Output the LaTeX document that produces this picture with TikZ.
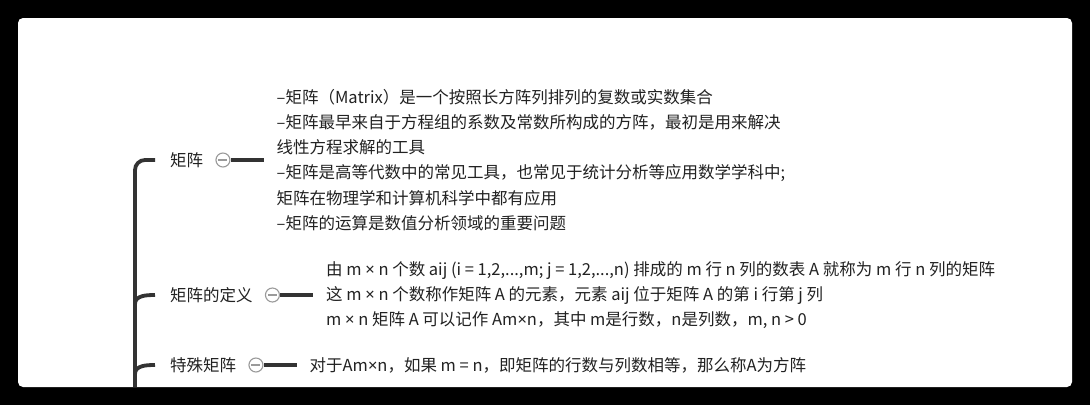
\documentclass[tikz,border=0pt]{standalone}
\usepackage{fontspec}
\newfontfamily\cjk{Noto Sans CJK SC}
\newfontfamily\lat{Noto Sans}
\newcommand{\by}{{\lat ×}}
\usetikzlibrary{positioning}
\definecolor{ink}{HTML}{222222}
\definecolor{stemgray}{HTML}{333333}
\definecolor{knobgray}{HTML}{9A9A9A}

\begin{document}
\begin{tikzpicture}[
  x=1pt, y=-1pt,
  font=\cjk\fontsize{16.5}{25.2}\selectfont,
  topic/.style={inner sep=0pt, text=ink, anchor=west},
  knob/.style={circle, draw=knobgray, fill=white, line width=1.1pt, minimum size=14pt, inner sep=0pt,
    path picture={\draw[knobgray, line width=1.1pt]
      ([xshift=-4.5pt]path picture bounding box.center) -- ([xshift=4.5pt]path picture bounding box.center);}},
  note/.style={align=left, text=ink, inner xsep=13pt, inner ysep=0pt},
  stem/.style={draw=stemgray, line width=3.8pt},
  link/.style={draw=stemgray, line width=3.4pt}
]
  % frame and card
  \fill[black] (0,0) rectangle (1090,405);
  \fill[white, rounded corners=5pt] (18,18) rectangle (1072,387);

  \node[topic] (t1) at (170,160) {矩阵};
  \node[knob, right=12pt of t1] (c1) {};
  \node[note, right=33pt of c1] (d1) {–矩阵（Matrix）是一个按照长方阵列排列的复数或实数集合\\
    –矩阵最早来自于方程组的系数及常数所构成的方阵，最初是用来解决\\
    线性方程求解的工具\\
    –矩阵是高等代数中的常见工具，也常见于统计分析等应用数学学科中;\\
    矩阵在物理学和计算机科学中都有应用\\
    –矩阵的运算是数值分析领域的重要问题};

  \node[topic] (t2) at (170,295) {矩阵的定义};
  \node[knob, right=12pt of t2] (c2) {};
  \node[note, right=33pt of c2] (d2) {由 m \by{} n 个数 aij (i = 1,2,...,m; j = 1,2,...,n) 排成的 m 行 n 列的数表 A 就称为 m 行 n 列的矩阵\\
    这 m \by{} n 个数称作矩阵 A 的元素，元素 aij 位于矩阵 A 的第 i 行第 j 列\\
    m \by{} n 矩阵 A 可以记作 Am\by{}n，其中 m是行数，n是列数，m, n > 0};

  \node[topic] (t3) at (170,365) {特殊矩阵};
  \node[knob, right=12pt of t3] (c3) {};
  \node[note, right=33pt of c3] (d3) {对于Am\by{}n，如果 m = n，即矩阵的行数与列数相等，那么称A为方阵};

  % trunk and branches
  \coordinate (root) at (135,387);
  \draw[stem, rounded corners=10pt] (root) |- ([xshift=-15pt]t1.west);
  \foreach \t in {t2,t3}
    \draw[stem] ([yshift=-9pt]root |- \t.west) to[out=90,in=180] ([xshift=-15pt]\t.west);
  \foreach \i in {1,2,3}
    \draw[link] (c\i.east) -- (c\i.east -| d\i.west);
\end{tikzpicture}
\end{document}
